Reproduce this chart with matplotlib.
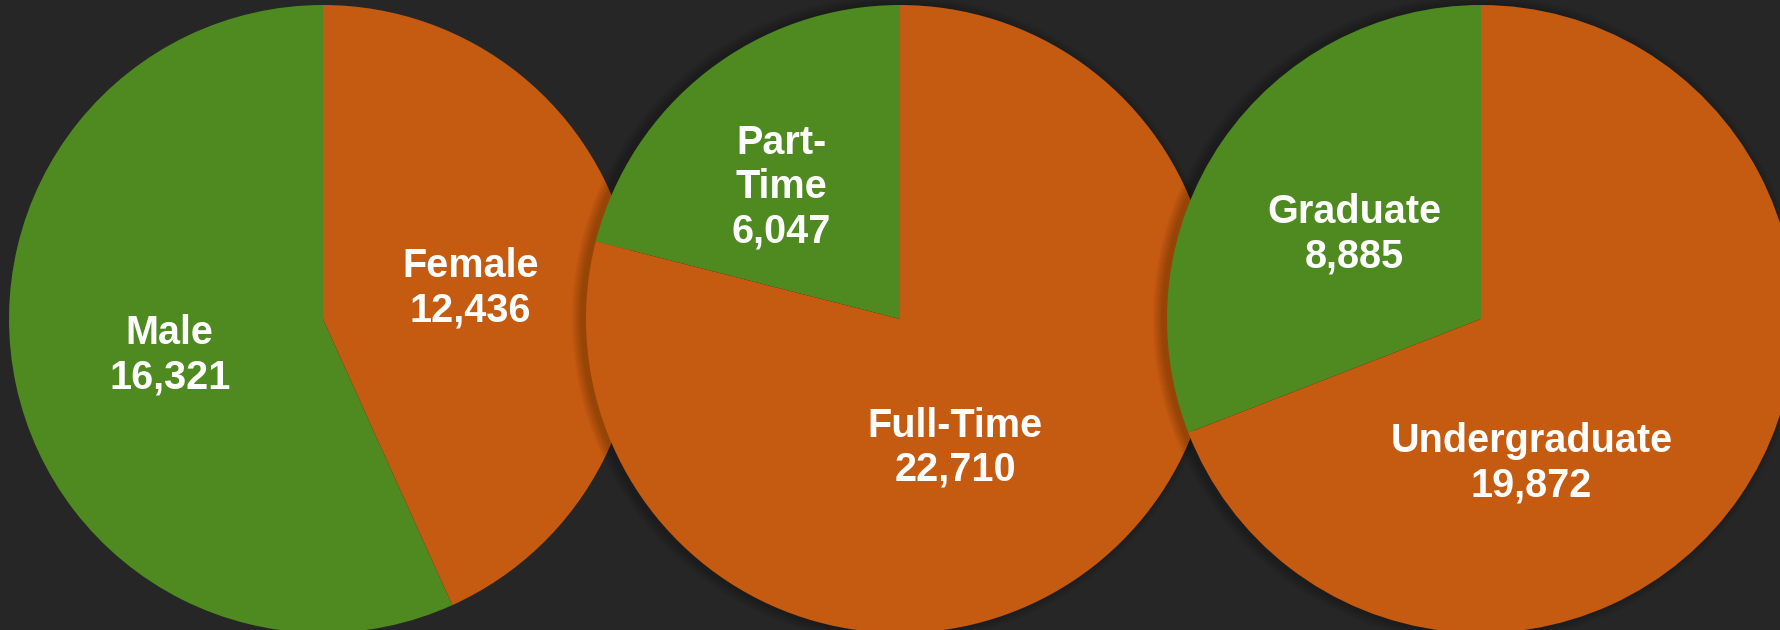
import matplotlib

matplotlib.use("Agg")
import matplotlib.pyplot as plt
import numpy as np
from matplotlib.patches import Circle

# Enrollment breakdowns (three pies, same total)
gender_labels = ["Male", "Female"]
gender_values = [16321, 12436]
status_labels = ["Part-\nTime", "Full-Time"]
status_values = [6047, 22710]
level_labels = ["Graduate", "Undergraduate"]
level_values = [8885, 19872]

GREEN = "#4e8a1f"
ORANGE = "#c55a11"
BG = "#262626"

W, H = 1780, 630
R = 314
centers = [(323, H - 319), (900, H - 319), (1481, H - 319)]

# label placement per slice: (angle in degrees, fraction of radius)
pies = [
    dict(labels=gender_labels, values=gender_values, colors=[GREEN, ORANGE],
         place=[(192.5, 0.50), (12.5, 0.48)]),
    dict(labels=status_labels, values=status_values, colors=[GREEN, ORANGE],
         place=[(131.5, 0.57), (-66.5, 0.44)]),
    dict(labels=level_labels, values=level_values, colors=[GREEN, ORANGE],
         place=[(145.5, 0.49), (-70.5, 0.48)]),
]

fig = plt.figure(figsize=(W / 100, H / 100), dpi=100, facecolor=BG)
ax = fig.add_axes([0, 0, 1, 1])
ax.set_facecolor(BG)

for i, (spec, c) in enumerate(zip(pies, centers)):
    z = 2 * i + 1
    if i > 0:
        # soft drop shadow falling on the previous pie
        for k in range(10):
            ax.add_patch(Circle((c[0] - 4, c[1]), R + 1 + k,
                                color="black", alpha=0.022, lw=0, zorder=z))
    wedges, _ = ax.pie(spec["values"], colors=spec["colors"], startangle=90,
                       radius=R, center=c, wedgeprops=dict(linewidth=0),
                       frame=True)
    for w in wedges:
        w.set_zorder(z + 0.5)
    for lab, val, (ang, frac) in zip(spec["labels"], spec["values"], spec["place"]):
        a = np.deg2rad(ang)
        ax.text(c[0] + frac * R * np.cos(a), c[1] + frac * R * np.sin(a) - 2,
                f"{lab}\n{val:,}", ha="center", va="center", color="white",
                fontsize=28.5, fontweight="bold", family="Liberation Sans",
                linespacing=1.21, zorder=20)

ax.set_xlim(0, W)
ax.set_ylim(0, H)
ax.set_aspect("equal")
ax.axis("off")
fig.savefig("out.png", dpi=100, facecolor=BG)
